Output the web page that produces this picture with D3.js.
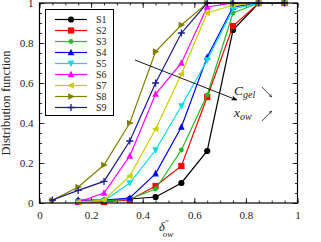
<!DOCTYPE html>
<html>
<head>
<meta charset="utf-8">
<script src="https://cdn.jsdelivr.net/npm/d3@7"></script>
<style>
  body { margin: 0; background: #fff; }
  svg { display: block; }
  text { font-family: "Liberation Serif", "DejaVu Serif", serif; }
</style>
</head>
<body>
<svg id="chart" width="321" height="242"></svg>
<script>
// sampled positions of delta''_ow
var xLong = [0.05, 0.15, 0.25, 0.35, 0.45, 0.55, 0.65, 0.75, 0.85, 0.95];
var xShort = [0.15, 0.25, 0.35, 0.45, 0.55, 0.65, 0.75, 0.85, 0.95];

var seriesNames = ["S1", "S2", "S3", "S4", "S5", "S6", "S7", "S8", "S9"];
var s1 = [0.01, 0.01, 0.02, 0.03, 0.10, 0.26, 0.865, 1, 1];
var s2 = [0.005, 0.005, 0.015, 0.085, 0.185, 0.53, 0.885, 1, 1];
var s3 = [0.005, 0.01, 0.02, 0.07, 0.265, 0.54, 0.95, 1, 1];
var s4 = [0.015, 0.015, 0.025, 0.147, 0.38, 0.73, 0.98, 1, 1];
var s5 = [0.005, 0.01, 0.10, 0.265, 0.485, 0.715, 0.97, 1, 1];
var s6 = [0.005, 0.05, 0.235, 0.545, 0.70, 0.98, 1, 1, 1];
var s7 = [0.005, 0.015, 0.135, 0.37, 0.645, 0.95, 0.99, 1, 1];
var s8 = [0.013, 0.08, 0.19, 0.40, 0.757, 0.89, 1, 1, 1, 1];
var s9 = [0.015, 0.063, 0.108, 0.31, 0.60, 0.85, 1, 1, 1, 1];

var xTicks = [0, 0.2, 0.4, 0.6, 0.8, 1];
var yTicks = [0, 0.2, 0.4, 0.6, 0.8, 1];

var colors = ["#000000", "#ff0000", "#22bb22", "#0000ff", "#00dddd", "#ff00ff", "#cccc00", "#808000", "#1a1a8c"];
var shapes = ["circle", "square", "smallcircle", "up", "down", "up", "left", "right", "plus"];

var series = [
  {x: xShort, y: s1}, {x: xShort, y: s2}, {x: xShort, y: s3},
  {x: xShort, y: s4}, {x: xShort, y: s5}, {x: xShort, y: s6},
  {x: xShort, y: s7}, {x: xLong, y: s8}, {x: xLong, y: s9}
];

var svg = d3.select("#chart");
var pLeft = 39.5, pRight = 297.5, pTop = 3, pBottom = 203;

var x = d3.scaleLinear().domain([0, 1]).range([pLeft, pRight]);
var y = d3.scaleLinear().domain([0, 1]).range([pBottom, pTop]);

// ticks, all inward, on all four sides
var minor = d3.range(0, 1.0001, 0.05);
var g = svg.append("g");
function tickSet(axisFn, scale, tx, ty, vals, len) {
  g.append("g").attr("transform", "translate(" + tx + "," + ty + ")")
    .call(axisFn(scale).tickValues(vals).tickSize(len).tickFormat(""))
    .call(function(s) { s.select(".domain").remove(); });
}
tickSet(d3.axisTop, x, 0, pBottom, minor, 2.5);
tickSet(d3.axisBottom, x, 0, pTop, minor, 2.5);
tickSet(d3.axisRight, y, pLeft, 0, minor, 2.5);
tickSet(d3.axisLeft, y, pRight, 0, minor, 2.5);
tickSet(d3.axisTop, x, 0, pBottom, xTicks, 5);
tickSet(d3.axisBottom, x, 0, pTop, xTicks, 5);
tickSet(d3.axisRight, y, pLeft, 0, yTicks, 5);
tickSet(d3.axisLeft, y, pRight, 0, yTicks, 5);
g.selectAll("line").attr("stroke", "#000").attr("stroke-width", 0.8);

// tick labels
var xAxis = svg.append("g").attr("transform", "translate(0," + pBottom + ")")
  .call(d3.axisBottom(x).tickValues(xTicks).tickSize(0).tickPadding(8).tickFormat(d3.format("")));
xAxis.select(".domain").remove();
xAxis.selectAll("text").attr("font-size", 11).attr("fill", "#222");

var yAxis = svg.append("g").attr("transform", "translate(" + pLeft + ",0)")
  .call(d3.axisLeft(y).tickValues(yTicks).tickSize(0).tickPadding(6).tickFormat(d3.format("")));
yAxis.select(".domain").remove();
yAxis.selectAll("text").attr("font-size", 11).attr("fill", "#222");

// markers
function drawMarker(sel, shape, color) {
  var r = 3.3;
  if (shape === "circle") {
    sel.append("circle").attr("r", 3.1).attr("fill", color);
  } else if (shape === "smallcircle") {
    sel.append("circle").attr("r", 2.4).attr("fill", color);
  } else if (shape === "square") {
    sel.append("rect").attr("x", -3.1).attr("y", -3.1).attr("width", 6.2).attr("height", 6.2).attr("fill", color);
  } else if (shape === "plus") {
    sel.append("path").attr("d", "M-3.5,0H3.5M0,-3.5V3.5").attr("stroke", color).attr("stroke-width", 1.3);
  } else {
    var pts = {
      up: [[0, -r - 0.5], [r, r - 0.5], [-r, r - 0.5]],
      down: [[0, r + 0.5], [r, -r + 0.5], [-r, -r + 0.5]],
      left: [[-r - 0.5, 0], [r - 0.5, -r], [r - 0.5, r]],
      right: [[r + 0.5, 0], [-r + 0.5, -r], [-r + 0.5, r]]
    }[shape];
    sel.append("path").attr("d", "M" + pts.join("L") + "Z").attr("fill", color);
  }
}

var line = d3.line().x(function(d) { return x(d[0]); }).y(function(d) { return y(d[1]); });
var plot = svg.append("g");
series.forEach(function(s, i) {
  var pts = d3.zip(s.x, s.y);
  plot.append("path").datum(pts).attr("d", line)
    .attr("fill", "none").attr("stroke", colors[i]).attr("stroke-width", 1.2);
  pts.forEach(function(p) {
    var m = plot.append("g").attr("transform", "translate(" + x(p[0]) + "," + y(p[1]) + ")");
    drawMarker(m, shapes[i], colors[i]);
  });
});

// frame
svg.append("rect").attr("x", pLeft).attr("y", pTop)
  .attr("width", pRight - pLeft).attr("height", pBottom - pTop)
  .attr("fill", "none").attr("stroke", "#000").attr("stroke-width", 1.2);

// legend
var leg = svg.append("g");
leg.append("rect").attr("x", 45.5).attr("y", 9.5).attr("width", 68).attr("height", 106)
  .attr("fill", "#fff").attr("stroke", "#000").attr("stroke-width", 1);
seriesNames.forEach(function(name, i) {
  var ly = 19.5 + i * 11;
  leg.append("line").attr("x1", 55).attr("x2", 87).attr("y1", ly).attr("y2", ly)
    .attr("stroke", colors[i]).attr("stroke-width", 1.2);
  var m = leg.append("g").attr("transform", "translate(71," + ly + ")");
  drawMarker(m, shapes[i], colors[i]);
  leg.append("text").attr("x", 96).attr("y", ly + 3.5).attr("font-size", 10).attr("fill", "#222").text(name);
});

// trend arrows and annotations
var defs = svg.append("defs");
defs.append("marker").attr("id", "head").attr("viewBox", "0 0 10 10").attr("refX", 9).attr("refY", 5)
  .attr("markerWidth", 7).attr("markerHeight", 7).attr("orient", "auto")
  .append("path").attr("d", "M0,1L10,5L0,9L3,5Z").attr("fill", "#000");
defs.append("marker").attr("id", "open").attr("viewBox", "0 0 10 10").attr("refX", 9).attr("refY", 5)
  .attr("markerWidth", 5).attr("markerHeight", 5).attr("orient", "auto")
  .append("path").attr("d", "M0,1L9,5L0,9").attr("fill", "none").attr("stroke", "#000").attr("stroke-width", 1.3);

svg.append("line").attr("x1", x(0.37)).attr("y1", y(0.715)).attr("x2", x(0.765)).attr("y2", y(0.515))
  .attr("stroke", "#000").attr("stroke-width", 0.9).attr("marker-end", "url(#head)");
svg.append("line").attr("x1", x(0.862)).attr("y1", y(0.58)).attr("x2", x(0.9)).attr("y2", y(0.53))
  .attr("stroke", "#000").attr("stroke-width", 0.7).attr("marker-end", "url(#open)");
svg.append("line").attr("x1", x(0.862)).attr("y1", y(0.41)).attr("x2", x(0.9)).attr("y2", y(0.46))
  .attr("stroke", "#000").attr("stroke-width", 0.7).attr("marker-end", "url(#open)");

var c = svg.append("text").attr("x", x(0.754)).attr("y", y(0.54)).attr("font-size", 13.5)
  .attr("font-style", "italic").attr("fill", "#222");
c.append("tspan").text("C");
c.append("tspan").attr("font-size", 10).attr("dy", 2.5).text("gel");
var xo = svg.append("text").attr("x", x(0.754)).attr("y", y(0.43)).attr("font-size", 13.5)
  .attr("font-style", "italic").attr("fill", "#222");
xo.append("tspan").text("x");
xo.append("tspan").attr("font-size", 10).attr("dy", 2.5).text("ow");

// axis titles
var xl = svg.append("text").attr("x", 159).attr("y", 231).attr("font-size", 12.5)
  .attr("font-style", "italic").attr("fill", "#222");
xl.append("tspan").text("δ");
xl.append("tspan").attr("font-size", 8).attr("font-style", "normal").attr("dx", 0.5).attr("dy", -5).text("′′");
xl.append("tspan").attr("font-size", 9).attr("dx", -6).attr("dy", 11).text("ow");

svg.append("text").attr("transform", "translate(10," + ((pTop + pBottom) / 2) + ") rotate(-90)")
  .attr("text-anchor", "middle").attr("font-size", 12.5).attr("fill", "#222")
  .text("Distribution function");
</script>
</body>
</html>
